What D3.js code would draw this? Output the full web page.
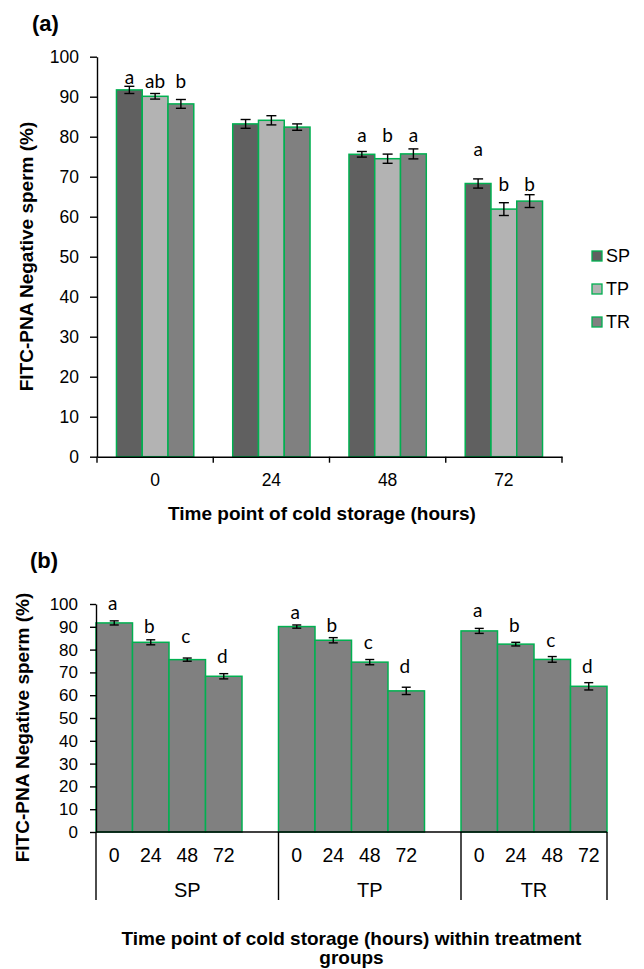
<!DOCTYPE html>
<html>
<head>
<meta charset="utf-8">
<script src="https://cdn.jsdelivr.net/npm/d3@7"></script>
<style>
  body { margin: 0; background: #fff; }
  text { font-family: "Liberation Sans", Arial, sans-serif; fill: #000; }
</style>
</head>
<body>
<div id="chart"></div>
<script>
// data
const hours = ['0', '24', '48', '72']
const groups = ['SP', 'TP', 'TR']

const spMean = [91.7, 83.2, 75.6, 68.3]
const tpMean = [90.1, 84.1, 74.5, 61.9]
const trMean = [88.2, 82.4, 75.7, 63.9]
const spErr = [0.9, 1.1, 0.7, 1.15]
const tpErr = [0.7, 1.15, 1.15, 1.6]
const trErr = [1.1, 0.8, 1.25, 1.6]

// significance letters, panel (a): groups compared at each time point
const lettersA = [['a', 'ab', 'b'], ['', '', ''], ['a', 'b', 'a'], ['a', 'b', 'b']]
const letterLevelA = [[93.3, 92.1, 92.1], [0, 0, 0], [78.8, 78.8, 78.8], [75.2, 66.4, 66.4]]
// panel (b): time points compared within each group
const lettersB = ['a', 'b', 'c', 'd']
const letterLevelB = [[97.4, 87.5, 82.8, 74.0], [93.3, 87.9, 80.3, 69.9], [94.5, 87.9, 81.3, 69.9]]

const colors = { SP: '#606060', TP: '#b3b3b3', TR: '#808080' }
const green = '#00b050'

const means = { SP: spMean, TP: tpMean, TR: trMean }
const errs = { SP: spErr, TP: tpErr, TR: trErr }

const width = 644
const height = 969

const svg = d3
  .select('#chart')
  .append('svg')
  .attr('width', width)
  .attr('height', height)

// ---------- panel (a) ----------
const xa = d3.scaleBand().domain(hours).range([97, 562])
const bwA = xa.bandwidth()
const xaInner = d3.scaleBand().domain(groups).range([bwA * 0.1675, bwA * 0.8325])
const ya = d3.scaleLinear().domain([0, 100]).range([456.7, 56.7])

const rowsA = []
hours.forEach((h, i) => {
  groups.forEach((g, j) => {
    rowsA.push({ h, g, v: means[g][i], e: errs[g][i], letter: lettersA[i][j], lv: letterLevelA[i][j] })
  })
})

const panelA = svg.append('g')

panelA
  .selectAll('rect')
  .data(rowsA)
  .enter()
  .append('rect')
  .attr('x', d => xa(d.h) + xaInner(d.g))
  .attr('y', d => ya(d.v))
  .attr('width', xaInner.bandwidth())
  .attr('height', d => ya(0) - ya(d.v))
  .attr('fill', d => colors[d.g])
  .attr('stroke', green)
  .attr('stroke-width', 1.5)

const errA = panelA.selectAll('.err').data(rowsA).enter().append('g').attr('class', 'err')
  .attr('stroke', '#000').attr('stroke-width', 1.4)
errA.append('line')
  .attr('x1', d => xa(d.h) + xaInner(d.g) + xaInner.bandwidth() / 2)
  .attr('x2', d => xa(d.h) + xaInner(d.g) + xaInner.bandwidth() / 2)
  .attr('y1', d => ya(d.v - d.e))
  .attr('y2', d => ya(d.v + d.e))
errA.selectAll('.cap')
  .data(d => [d.v - d.e, d.v + d.e].map(y => ({ d, y })))
  .enter()
  .append('line')
  .attr('x1', o => xa(o.d.h) + xaInner(o.d.g) + xaInner.bandwidth() / 2 - 5)
  .attr('x2', o => xa(o.d.h) + xaInner(o.d.g) + xaInner.bandwidth() / 2 + 5)
  .attr('y1', o => ya(o.y))
  .attr('y2', o => ya(o.y))

panelA
  .selectAll('.letter')
  .data(rowsA.filter(d => d.letter))
  .enter()
  .append('text')
  .attr('class', 'letter')
  .attr('x', d => xa(d.h) + xaInner(d.g) + xaInner.bandwidth() / 2)
  .attr('y', d => ya(d.lv))
  .attr('text-anchor', 'middle')
  .style('font-family', 'Lato, "Open Sans", sans-serif')
  .attr('font-size', 19)
  .text(d => d.letter)

// y axis
panelA.append('g')
  .attr('transform', 'translate(97,0)')
  .call(d3.axisLeft(ya).ticks(10).tickSize(7).tickSizeOuter(0).tickPadding(11))
  .call(g => g.selectAll('text').attr('font-size', 17.5).attr('fill', '#000'))
  .call(g => g.selectAll('line, path').attr('stroke', '#000').attr('stroke-width', 1.4))

// x axis
panelA.append('g')
  .attr('transform', `translate(0,${ya(0)})`)
  .call(d3.axisBottom(xa).tickSize(0).tickPadding(17))
  .call(g => g.selectAll('text').attr('font-size', 17.5).attr('fill', '#000'))
  .call(g => g.select('.domain').attr('stroke', '#000').attr('stroke-width', 1.4))

panelA
  .selectAll('.xtick')
  .data(hours.map(h => xa(h)).concat([xa.range()[1]]))
  .enter()
  .append('line')
  .attr('x1', d => d)
  .attr('x2', d => d)
  .attr('y1', ya(0))
  .attr('y2', ya(0) + 6)
  .attr('stroke', '#000')
  .attr('stroke-width', 1.4)

panelA.append('text')
  .text('Time point of cold storage (hours)')
  .attr('x', 322)
  .attr('y', 520)
  .attr('text-anchor', 'middle')
  .attr('font-size', 19)
  .attr('font-weight', 'bold')

panelA.append('text')
  .text('FITC-PNA Negative sperm (%)')
  .attr('transform', 'translate(26.5,256.5) rotate(-90)')
  .attr('text-anchor', 'middle')
  .attr('dominant-baseline', 'central')
  .attr('font-size', 19)
  .attr('font-weight', 'bold')

panelA.append('text')
  .text('(a)')
  .attr('x', 32)
  .attr('y', 30.5)
  .attr('font-size', 22)
  .attr('font-weight', 'bold')

// legend
const legend = panelA.selectAll('.legend')
  .data(groups)
  .enter()
  .append('g')
  .attr('transform', (d, i) => `translate(592,${251 + i * 33})`)
legend.append('rect')
  .attr('width', 10)
  .attr('height', 10)
  .attr('fill', d => colors[d])
  .attr('stroke', green)
  .attr('stroke-width', 1.3)
legend.append('text')
  .attr('x', 14)
  .attr('y', 5)
  .attr('dy', '0.36em')
  .attr('font-size', 18)
  .text(d => d)

// ---------- panel (b) ----------
const bStart = 96
const bEnd = 607
const slot = (bEnd - bStart) / 14
const xg = d3.scaleBand().domain(groups).range([bStart, bStart + 15 * slot])
const xh = d3.scaleBand().domain(hours).range([0, 4 * slot])
const yb = d3.scaleLinear().domain([0, 100]).range([832, 604])

const rowsB = []
groups.forEach((g, j) => {
  hours.forEach((h, i) => {
    rowsB.push({ g, h, v: means[g][i], e: errs[g][i], letter: lettersB[i], lv: letterLevelB[j][i] })
  })
})

const panelB = svg.append('g')

panelB
  .selectAll('rect')
  .data(rowsB)
  .enter()
  .append('rect')
  .attr('x', d => xg(d.g) + xh(d.h))
  .attr('y', d => yb(d.v))
  .attr('width', xh.bandwidth())
  .attr('height', d => yb(0) - yb(d.v))
  .attr('fill', '#808080')
  .attr('stroke', green)
  .attr('stroke-width', 1.5)

const errB = panelB.selectAll('.err').data(rowsB).enter().append('g').attr('class', 'err')
  .attr('stroke', '#000').attr('stroke-width', 1.4)
errB.append('line')
  .attr('x1', d => xg(d.g) + xh(d.h) + xh.bandwidth() / 2)
  .attr('x2', d => xg(d.g) + xh(d.h) + xh.bandwidth() / 2)
  .attr('y1', d => yb(d.v - d.e))
  .attr('y2', d => yb(d.v + d.e))
errB.selectAll('.cap')
  .data(d => [d.v - d.e, d.v + d.e].map(y => ({ d, y })))
  .enter()
  .append('line')
  .attr('x1', o => xg(o.d.g) + xh(o.d.h) + xh.bandwidth() / 2 - 4.5)
  .attr('x2', o => xg(o.d.g) + xh(o.d.h) + xh.bandwidth() / 2 + 4.5)
  .attr('y1', o => yb(o.y))
  .attr('y2', o => yb(o.y))

panelB
  .selectAll('.letter')
  .data(rowsB)
  .enter()
  .append('text')
  .attr('class', 'letter')
  .attr('x', d => xg(d.g) + xh(d.h) + xh.bandwidth() / 2 - 1.5)
  .attr('y', d => yb(d.lv))
  .attr('text-anchor', 'middle')
  .style('font-family', 'Lato, "Open Sans", sans-serif')
  .attr('font-size', 19)
  .text(d => d.letter)

panelB.append('g')
  .attr('transform', `translate(${bStart},0)`)
  .call(d3.axisLeft(yb).ticks(10).tickSize(6).tickSizeOuter(0).tickPadding(12))
  .call(g => g.selectAll('text').attr('font-size', 17).attr('fill', '#000'))
  .call(g => g.selectAll('line, path').attr('stroke', '#000').attr('stroke-width', 1.4))

// x axis line and hour labels for every group
panelB.append('line')
  .attr('x1', bStart).attr('x2', bEnd)
  .attr('y1', yb(0)).attr('y2', yb(0))
  .attr('stroke', '#000').attr('stroke-width', 1.4)

groups.forEach(g => {
  panelB.append('g')
    .attr('transform', `translate(${xg(g)},${yb(0)})`)
    .call(d3.axisBottom(xh).tickSize(0).tickPadding(16))
    .call(sel => sel.select('.domain').remove())
    .call(sel => sel.selectAll('text').attr('font-size', 19.5).attr('fill', '#000'))
})

// group dividers and group labels
const edges = groups.map(g => xg(g)).concat([bEnd])
panelB.selectAll('.divider')
  .data(edges)
  .enter()
  .append('line')
  .attr('x1', d => d).attr('x2', d => d)
  .attr('y1', yb(0)).attr('y2', 900)
  .attr('stroke', '#000').attr('stroke-width', 1.4)

panelB.selectAll('.glabel')
  .data(groups)
  .enter()
  .append('text')
  .attr('x', (d, i) => (edges[i] + edges[i + 1]) / 2)
  .attr('y', 897)
  .attr('text-anchor', 'middle')
  .attr('font-size', 20)
  .text(d => d)

const titleB = panelB.append('text')
  .attr('x', (bStart + bEnd) / 2)
  .attr('text-anchor', 'middle')
  .attr('font-size', 19)
  .attr('font-weight', 'bold')
titleB.append('tspan').attr('x', (bStart + bEnd) / 2).attr('y', 945)
  .text('Time point of cold storage (hours) within treatment')
titleB.append('tspan').attr('x', (bStart + bEnd) / 2).attr('y', 964)
  .text('groups')

panelB.append('text')
  .text('FITC-PNA Negative sperm (%)')
  .attr('transform', 'translate(22.5,727.5) rotate(-90)')
  .attr('text-anchor', 'middle')
  .attr('dominant-baseline', 'central')
  .attr('font-size', 19)
  .attr('font-weight', 'bold')

panelB.append('text')
  .text('(b)')
  .attr('x', 30)
  .attr('y', 567.5)
  .attr('font-size', 22)
  .attr('font-weight', 'bold')
</script>
</body>
</html>
